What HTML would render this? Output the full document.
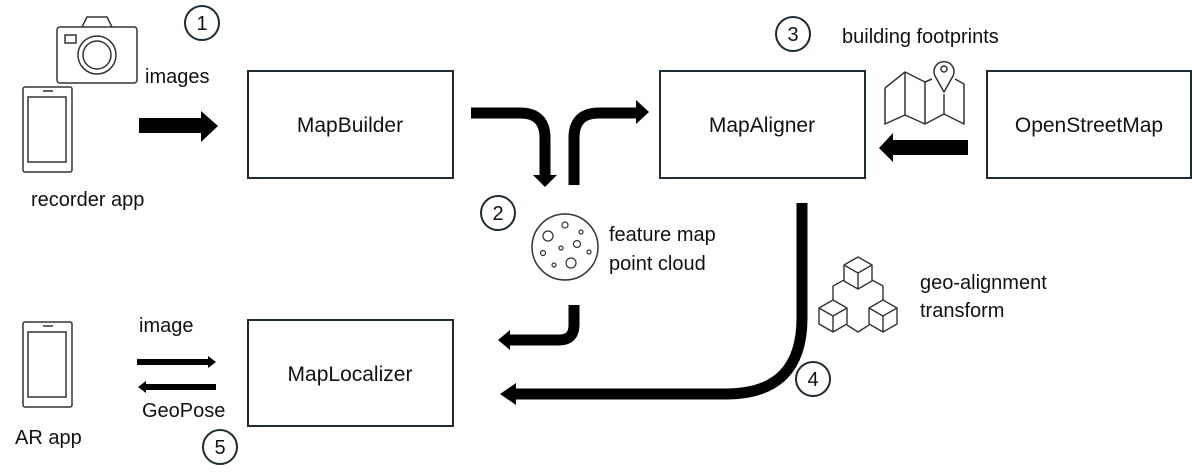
<!DOCTYPE html>
<html><head><meta charset="utf-8"><style>
html,body{margin:0;padding:0;background:#fff;}
svg{display:block;}
text{font-family:"Liberation Sans",sans-serif;fill:#111;}
</style></head><body>
<svg width="1192" height="476" viewBox="0 0 1192 476" xmlns="http://www.w3.org/2000/svg">
<g fill="none" stroke="#1d2b33" stroke-width="2">
<rect x="248" y="71" width="205" height="107"/>
<rect x="248" y="320" width="205" height="106"/>
<rect x="660" y="71" width="205" height="107"/>
<rect x="987" y="71" width="204" height="107"/>
<circle cx="202" cy="23" r="17"/>
<circle cx="498" cy="213" r="17"/>
<circle cx="793" cy="34" r="17"/>
<circle cx="813" cy="379" r="17"/>
<circle cx="220" cy="447" r="17"/>
</g>
<g font-size="20" text-anchor="middle">
<text x="202" y="30">1</text>
<text x="498" y="220">2</text>
<text x="793" y="41">3</text>
<text x="813" y="386">4</text>
<text x="220" y="454">5</text>
</g>
<g font-size="21" text-anchor="middle">
<text x="350" y="132">MapBuilder</text>
<text x="350" y="381">MapLocalizer</text>
<text x="762" y="132">MapAligner</text>
<text x="1089" y="132">OpenStreetMap</text>
</g>
<g font-size="20">
<text x="145" y="83">images</text>
<text x="31" y="206">recorder app</text>
<text x="842" y="43">building footprints</text>
<text x="609" y="241">feature map</text>
<text x="609" y="270">point cloud</text>
<text x="920" y="289">geo-alignment</text>
<text x="920" y="317">transform</text>
<text x="139" y="332">image</text>
<text x="142" y="417">GeoPose</text>
<text x="15" y="444">AR app</text>
</g>
<!-- camera -->
<g fill="none" stroke="#333" stroke-width="1.5">
<rect x="57" y="27" width="80" height="56" rx="3"/>
<path d="M82 27 L87 17 L107 17 L112 27"/>
<circle cx="97" cy="55" r="19"/>
<circle cx="97" cy="55" r="14"/>
<rect x="65" y="35" width="11" height="8"/>
<!-- phones -->
<rect x="23" y="87" width="49" height="85" rx="2"/>
<rect x="28" y="97" width="38" height="65"/>
<line x1="43" y1="91" x2="53" y2="91"/>
<rect x="23" y="322" width="49" height="85" rx="2"/>
<rect x="28" y="332" width="38" height="65"/>
<line x1="43" y1="326" x2="53" y2="326"/>
<!-- point cloud -->
<circle cx="565" cy="247" r="33"/>
</g>
<g fill="none" stroke="#333" stroke-width="1.2">
<circle cx="548" cy="236" r="5"/><circle cx="565" cy="225" r="3"/><circle cx="581" cy="232" r="2"/>
<circle cx="577" cy="244" r="3.5"/><circle cx="561" cy="248" r="2"/><circle cx="543" cy="253" r="2.5"/>
<circle cx="589" cy="252" r="2"/><circle cx="571" cy="263" r="5"/><circle cx="554" cy="265" r="2"/>
</g>
<!-- map icon -->
<g fill="none" stroke="#333" stroke-width="1.5" stroke-linejoin="round">
<polyline points="885,88 905,72 925,82 932,79"/>
<polyline points="955,79 964,84 964,124 944,114 925,124 905,115 885,124 885,88"/>
<line x1="905" y1="72" x2="905" y2="115"/>
<line x1="925" y1="82" x2="925" y2="124"/>
<line x1="944" y1="94" x2="944" y2="114"/>
<path d="M944 92 L935 76 A10 10 0 1 1 953 76 Z"/>
<circle cx="944" cy="69" r="3"/>
</g>
<!-- cubes -->
<g fill="none" stroke="#333" stroke-width="1.4" stroke-linejoin="round">
<g transform="translate(858,257)"><path d="M0 0 L14 8 L14 24 L0 32 L-14 24 L-14 8 Z M-14 8 L0 16 L14 8 M0 16 L0 32"/></g>
<g transform="translate(833,300)"><path d="M0 0 L14 8 L14 24 L0 32 L-14 24 L-14 8 Z M-14 8 L0 16 L14 8 M0 16 L0 32"/></g>
<g transform="translate(883,300)"><path d="M0 0 L14 8 L14 24 L0 32 L-14 24 L-14 8 Z M-14 8 L0 16 L14 8 M0 16 L0 32"/></g>
<path d="M844 280 L833 286 L833 300 M872 280 L883 286 L883 300 M847 325 L858 332 L869 325"/>
</g>
<!-- thick arrows -->
<g fill="#000">
<path d="M139 118 L201 118 L201 111 L218 126 L201 142 L201 133 L139 133 Z"/>
<path d="M968 140 L893 140 L893 133 L879 148 L893 162 L893 155 L968 155 Z"/>
<path d="M533 175 L557 175 L545 187 Z"/>
<path d="M636 100 L649 112 L636 124 Z"/>
<path d="M510 330 L498 340 L510 350 Z"/>
<path d="M516 383 L500 394 L516 405 Z"/>
<path d="M137 359 L208 359 L208 356 L216 362 L208 368 L208 365 L137 365 Z"/>
<path d="M216 384 L146 384 L146 381 L138 387 L146 393 L146 390 L216 390 Z"/>
</g>
<g fill="none" stroke="#000" stroke-width="11">
<path d="M471 113 L520 113 Q545 113 545 138 L545 176"/>
<path d="M574 185 L574 138 Q574 113 599 113 L637 113"/>
<path d="M574 305 L574 325 Q574 340 559 340 L509 340"/>
<path d="M802 203 L802 318 Q802 394 726 394 L514 394"/>
</g>
</svg>
</body></html>
